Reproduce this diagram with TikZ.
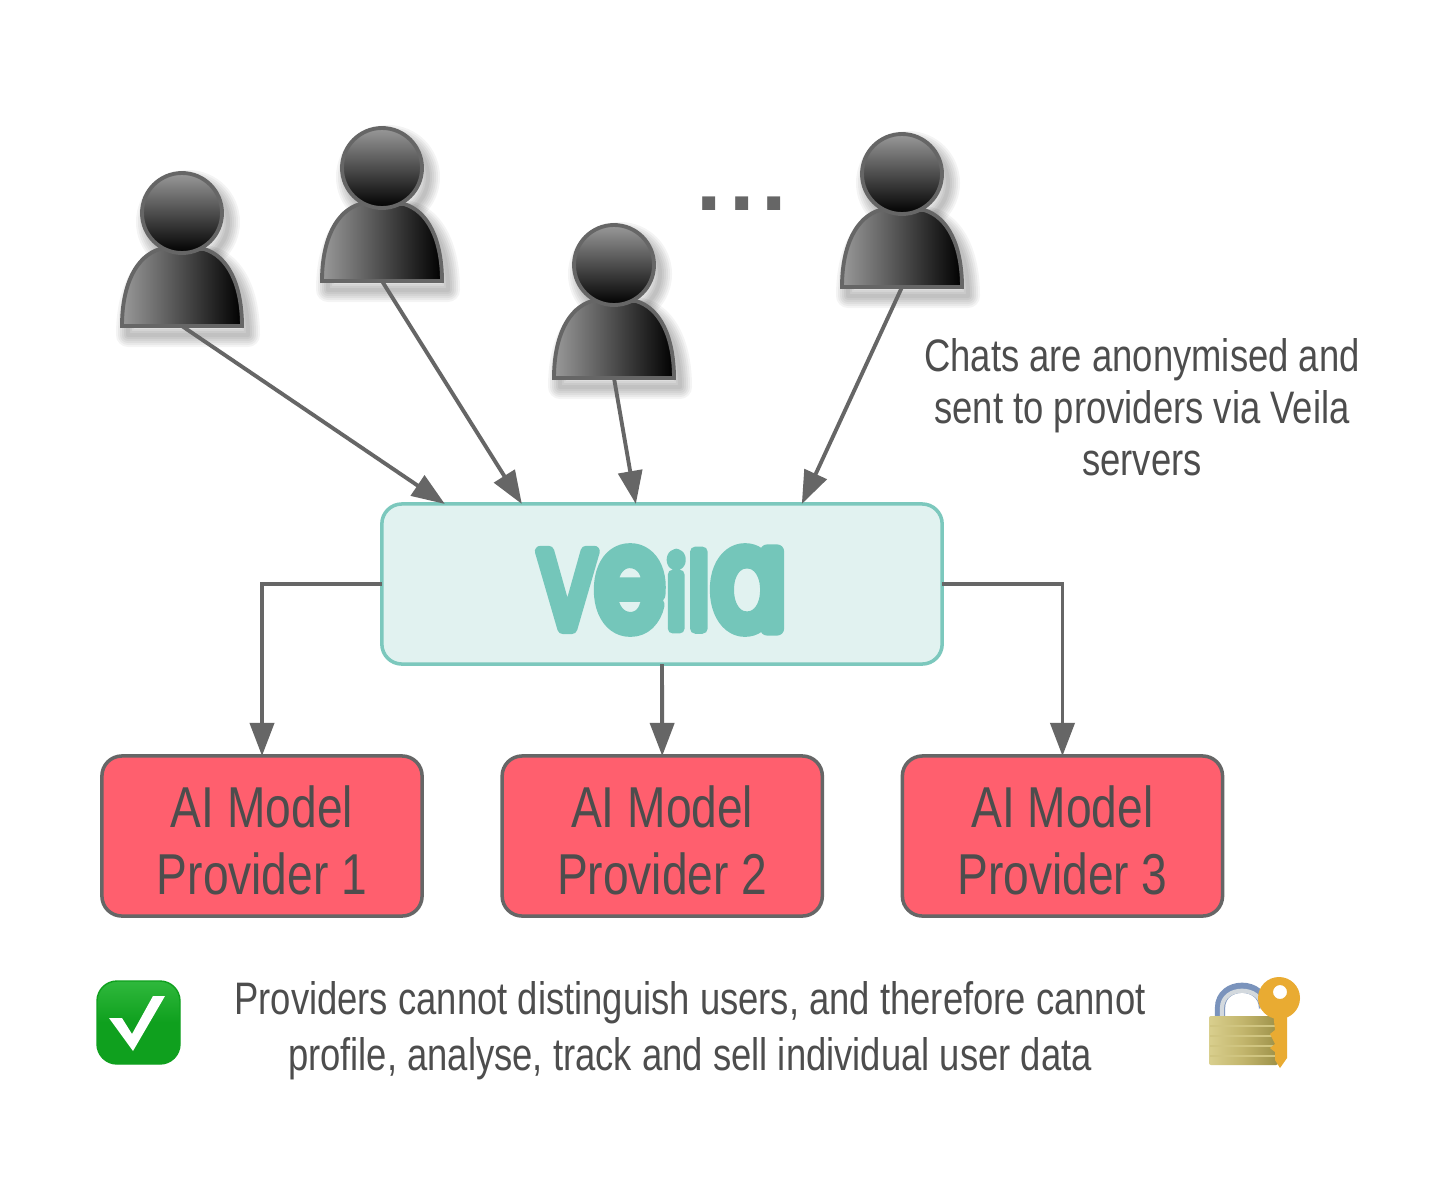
\documentclass[tikz,border=0pt]{standalone}
\usepackage{fontspec}
\setmainfont[FakeStretch=0.8]{Liberation Sans}
\newfontfamily\dotsfont{Liberation Sans}
\newfontfamily\logofont[FakeBold=10,FakeStretch=0.77]{Poppins}
\usetikzlibrary{arrows.meta,calc,positioning}
\definecolor{linegrey}{HTML}{666666}
\definecolor{textgrey}{HTML}{4D4D4D}
\definecolor{veilafill}{HTML}{E1F2F0}
\definecolor{veilaline}{HTML}{7CC8BD}
\definecolor{veilatext}{HTML}{74C6BA}
\definecolor{providerfill}{HTML}{FF5F6E}
\definecolor{keygold}{HTML}{E9AB32}
\definecolor{boxgreen}{HTML}{0FA01E}
\definecolor{boxlight}{HTML}{2FB83C}
\definecolor{brassl}{HTML}{D9CF8E}
\definecolor{brassm}{HTML}{C2B56C}
\definecolor{brassd}{HTML}{9C9048}
\definecolor{steeld}{HTML}{7A93BC}
\definecolor{steell}{HTML}{D3D9DE}
\tikzset{
node distance=4cm, % providers sit 400 px apart
x=0.01cm, y=-0.01cm,
veilabox/.style={draw=veilaline, fill=veilafill, line width=1pt, rounded corners=0.2cm,
    minimum width=5.6cm, minimum height=1.6cm, inner sep=0pt, outer sep=0pt},
provider/.style={draw=linegrey, fill=providerfill, line width=1pt, rounded corners=0.2cm,
    minimum width=3.2cm, minimum height=1.6cm, inner sep=0pt, outer sep=0pt, text=textgrey, align=center,
    font=\fontsize{16.4}{19.2}\selectfont},
note/.style={text=textgrey, align=center, inner sep=0pt},
personbox/.style={minimum width=1.22cm, minimum height=1.54cm, inner sep=0pt, outer sep=0pt},
link/.style={draw=linegrey, line width=1.1pt, -{Triangle[length=0.33cm,width=0.24cm]}},
}
% one user: head centre at #2,#3
\newcommand{\personbody}{(-60,113) .. controls (-60,72) and (-46,43) .. (-22,36) -- (22,36) .. controls (46,43) and (60,72) .. (60,113) -- cycle}
\newcommand{\person}[3]{
  \begin{scope}[shift={(#2,#3)}]
    \foreach \w in {24,20,16,12,8,4} {
      \draw[black, opacity=0.045, line width=\w*0.01cm, line join=round, shift={(6,9)}] \personbody;
      \draw[black, opacity=0.045, line width=\w*0.01cm, shift={(6,9)}] (0,0) circle (40);
    }
    \draw[draw=linegrey, line width=1.1pt, left color=black!40, right color=black] \personbody;
    \draw[draw=linegrey, line width=1.1pt, top color=black!40, bottom color=black] (0,0) circle (40);
    \node[personbox] (#1) at (0,36) {};
  \end{scope}
}
\begin{document}
\begin{tikzpicture}[on grid]
  \useasboundingbox (0,0) rectangle (1440,1200);
  \fill[white] (0,0) rectangle (1440,1200);
  \person{u_1}{182}{213}
  \person{u_2}{382}{168}
  \person{u_3}{614}{265}
  \person{u_4}{902}{174}
  \node[note, text=linegrey, font=\dotsfont\bfseries\fontsize{26}{26}\selectfont] (more) at (742,204) {.\kern2pt.\kern2pt.};

  \node[veilabox] (veila) at (662,584) {};
  \begin{scope}[line join=round, line cap=round]
    \node[text=veilatext, inner sep=0pt, font=\logofont] (logo) at (662,590) {\fontsize{31.5}{30}\selectfont V\fontsize{40}{38}\selectfont e\kern1pt\fontsize{28}{27}\selectfont i\kern1pt\fontsize{29.5}{28}\selectfont l\kern1pt\fontsize{40}{38}\selectfont a};
  \end{scope}
  \node[provider] (p_1) at (262,836) {\rule{0pt}{14.3pt}AI Model\\Provider 1};
  \node[provider] (p_2) [right=of p_1] {\rule{0pt}{14.3pt}AI Model\\Provider 2};
  \node[provider] (p_3) [right=of p_2] {\rule{0pt}{14.3pt}AI Model\\Provider 3};

  \node[note, font=\fontsize{12.95}{14.8}\selectfont] (chats) at (1142,407) {Chats are anonymised and\\sent to providers via Veila\\servers};
  \node[note, font=\fontsize{12.95}{15.9}\selectfont] (result) at (690,1031) {Providers cannot distinguish users, and therefore cannot\\profile, analyse, track and sell individual user data};

  % where the users reach the box
  \coordinate (in_1) at ($(veila.north west)+(63,0)$);
  \coordinate (in_2) at ($(veila.north west)+(140,0)$);
  \coordinate (in_3) at ($(veila.north west)+(254,0)$);
  \coordinate (in_4) at ($(veila.north west)+(420,0)$);
  \draw[link] (u_1.south) -- (in_1);
  \draw[link] (u_2.south) -- (in_2);
  \draw[link] (u_3.south) -- (in_3);
  \draw[link] (u_4.south) -- (in_4);
  \draw[link] (veila.west) -| (p_1.north);
  \draw[link] (veila.south) -- (p_2.north);
  \draw[link] (veila.east) -| (p_3.north);

  % check mark
  \draw[draw=boxgreen, line width=0.4pt, rounded corners=0.2cm, top color=boxlight, bottom color=boxgreen, middle color=boxgreen]
    (97,981) rectangle (180,1064);
  \fill[white] (109,1018) -- (122,1018) -- (132,1034) -- (153,996) -- (165,996) -- (133,1051) -- cycle;

  % lock and key
  \draw[line width=2.9pt, draw=steeld] (1220,1020) -- (1220,1008) .. controls (1220,981) and (1264,981) .. (1264,1008);
  \draw[line width=1.2pt, draw=steell] (1222,1020) -- (1222,1008) .. controls (1222,985) and (1262,985) .. (1262,1008);
  \shade[left color=brassl, right color=brassd, middle color=brassm, rounded corners=0.02cm] (1209,1016) rectangle (1278,1065);
  \foreach \ya in {1026,1036,1046,1056}
    \draw[brassl!60!brassm, line width=0.3pt] (1210,\ya) -- (1276,\ya);
  \fill[keygold] (1273,1012) -- (1287,1012) -- (1287,1058) -- (1280,1068) -- (1275,1060) -- (1275,1052) -- (1270,1048) -- (1275,1044) -- (1270,1034) -- (1275,1030) -- cycle;
  \fill[keygold, even odd rule] (1279,998) circle (21) (1280,992) circle (7);
\end{tikzpicture}
\end{document}
